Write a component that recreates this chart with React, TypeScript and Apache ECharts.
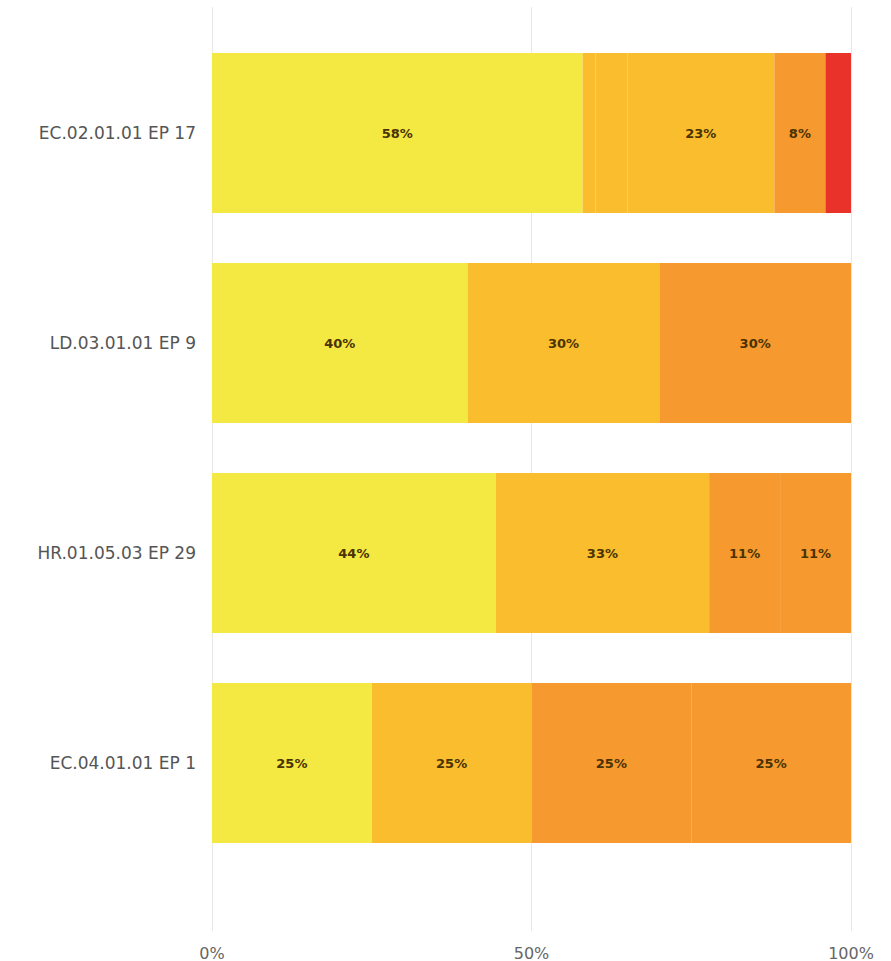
import React, { useEffect, useRef } from "react";
import * as echarts from "echarts";

const categories = ["EC.02.01.01 EP 17", "LD.03.01.01 EP 9", "HR.01.05.03 EP 29", "EC.04.01.01 EP 1"];
const yellowValues = [58, 40, 44.4, 25];
const lightOrangeA = [2, 30, 33.4, 25];
const lightOrangeB = [5, 0, 0, 0];
const lightOrangeC = [23, 0, 0, 0];
const orangeA = [8, 30, 11.1, 25];
const orangeB = [0, 0, 11.1, 25];
const redValues = [4, 0, 0, 0];
const tickValues = [0, 50, 100];

const seriesDefs = [
  { name: "s1", data: yellowValues, color: "#F4E843" },
  { name: "s2", data: lightOrangeA, color: "#F9BD2D" },
  { name: "s3", data: lightOrangeB, color: "#F9BD2D" },
  { name: "s4", data: lightOrangeC, color: "#F9BD2D" },
  { name: "s5", data: orangeA, color: "#F69A2F" },
  { name: "s6", data: orangeB, color: "#F69A2F" },
  { name: "s7", data: redValues, color: "#E8322A" },
];

export default function App() {
  const ref = useRef<HTMLDivElement>(null);
  useEffect(() => {
    if (!ref.current) return;
    const chart = echarts.init(ref.current, null, { renderer: "svg" });
    chart.setOption({
      animation: false,
      backgroundColor: "#ffffff",
      grid: [
        { left: 212, right: 40, top: 28, height: 840 },
        { left: 212, right: 40, top: 7, bottom: 29 },
      ],
      xAxis: [
        {
          gridIndex: 0,
          type: "value",
          min: 0,
          max: 100,
          show: false,
        },
        {
          gridIndex: 1,
          type: "value",
          min: tickValues[0],
          max: tickValues[tickValues.length - 1],
          interval: 50,
          axisLine: { show: false },
          axisTick: { show: false },
          splitLine: { show: true, lineStyle: { color: "#e8e8e8", width: 1 } },
          axisLabel: {
            formatter: "{value}%",
            color: "#666",
            fontSize: 16,
            fontFamily: "DejaVu Sans",
            margin: 14,
          },
        },
      ],
      yAxis: [
        {
          gridIndex: 0,
          type: "category",
          data: categories,
          inverse: true,
          axisLine: { show: false },
          axisTick: { show: false },
          axisLabel: {
            color: "#555",
            fontSize: 17,
            fontFamily: "DejaVu Sans",
            margin: 16,
          },
        },
        {
          gridIndex: 1,
          type: "category",
          data: [""],
          show: false,
        },
      ],
      series: seriesDefs.map((s) => ({
        name: s.name,
        type: "bar",
        stack: "total",
        xAxisIndex: 0,
        yAxisIndex: 0,
        barWidth: 160,
        data: s.data,
        itemStyle: { color: s.color },
        label: {
          show: true,
          position: "inside",
          color: "#4a3300",
          fontSize: 13,
          fontWeight: "bold",
          fontFamily: "DejaVu Sans",
          formatter: (p: any) => (p.value >= 6 ? Math.round(p.value) + "%" : ""),
        },
      })),
    });
    return () => chart.dispose();
  }, []);
  return <div ref={ref} style={{ width: 891, height: 961, position: "absolute", left: 0, top: 0 }} />;
}
